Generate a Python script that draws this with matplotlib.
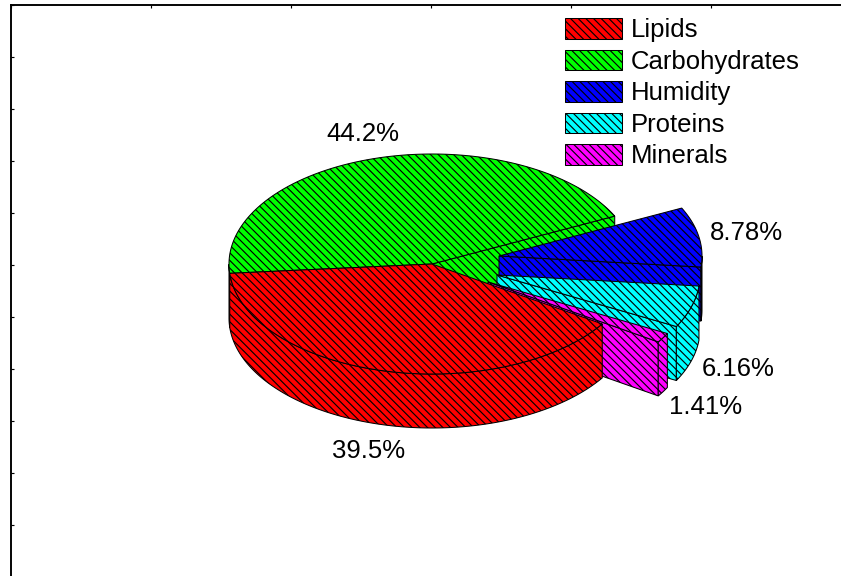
import numpy as np
import matplotlib
matplotlib.use('Agg')
from matplotlib import pyplot as plt
from matplotlib.patches import Polygon, Patch

categories = ['Lipids', 'Carbohydrates', 'Humidity', 'Proteins', 'Minerals']
values = [39.5, 44.2, 8.78, 6.16, 1.41]
value_labels = ['39.5%', '44.2%', '8.78%', '6.16%', '1.41%']
colors = ['#ff0000', '#00ff00', '#0000ff', '#00ffff', '#ff00ff']

# pie shape, in pixels of the picture
center_x, center_y = 432, 264
radius_x, radius_y = 203, 110
depth = 54
start_angle = -33
explode = [(0, 0), (0, 0), (67, -8), (65, 11), (56, 18)]
label_pos = [(369, 451), (363, 134), (746, 233), (738, 369), (706, 407)]
draw_order = [1, 2, 3, 4, 0]

# hatch spacing follows the dpi, 92 gives the spacing of the original
DPI = 92
plt.rcParams['font.family'] = ['Liberation Sans', 'DejaVu Sans']
plt.rcParams['hatch.linewidth'] = 0.9
font_size = 20.2
edge_width = 0.8
hatch = '\\\\\\\\'

W, H = 841, 576
fig = plt.figure(figsize=(W / DPI, H / DPI), dpi=DPI)
left, top, right, bottom = 11, 5, 851, 577
ax = fig.add_axes([left / W, 1 - bottom / H, (right - left) / W, (bottom - top) / H])
ax.set_xlim(left, right)
ax.set_ylim(bottom, top)
ax.set_xticks(np.arange(left, right + 1, 140))
ax.set_yticks(np.arange(top, bottom + 1, 52))
ax.tick_params(direction='in', length=2.2, width=0.9, top=True, bottom=False,
               labelleft=False, labelbottom=False)
for name in ['right', 'bottom']:
    ax.spines[name].set_visible(False)
for name in ['left', 'top']:
    ax.spines[name].set_linewidth(1.5)


def add_poly(pts, color):
    ax.add_patch(Polygon(pts, closed=True, facecolor=color, edgecolor='black',
                         hatch=hatch, linewidth=edge_width, joinstyle='miter'))


def rim(cx, cy, t):
    return np.column_stack([cx + radius_x * np.cos(t), cy - radius_y * np.sin(t)])


# angles run clockwise from the start angle
total = sum(values)
ends = start_angle - np.cumsum(values) / total * 360
starts = np.concatenate([[start_angle], ends[:-1]])

for i in draw_order:
    a1, a2 = np.radians(starts[i]), np.radians(ends[i])
    cx = center_x + explode[i][0]
    cy = center_y + explode[i][1]
    apex = np.array([cx, cy])
    down = np.array([0, depth])
    # cut faces that look towards the viewer
    for a, show in [(a1, np.cos(a1) < 0), (a2, np.cos(a2) > 0)]:
        if show:
            p = rim(cx, cy, np.array([a]))[0]
            add_poly([apex, p, p + down, apex + down], colors[i])
    # outer wall, front half only
    t = np.linspace(a1, a2, 400)
    front = t[np.sin(t) <= 0]
    if len(front) > 1:
        arc = rim(cx, cy, front)
        add_poly(np.vstack([arc, arc[::-1] + down]), colors[i])
    # top surface
    add_poly(np.vstack([apex, rim(cx, cy, t)]), colors[i])

for (x, y), txt in zip(label_pos, value_labels):
    ax.text(x, y, txt, fontsize=font_size, ha='center', va='center', color='black')

handles = [Patch(facecolor=c, edgecolor='black', hatch=hatch, linewidth=edge_width) for c in colors]
ax.legend(handles, categories, loc='upper left', bbox_to_anchor=(565, 18),
          bbox_transform=ax.transData, frameon=False, fontsize=font_size,
          borderpad=0, borderaxespad=0, handlelength=2.2, handleheight=0.86,
          handletextpad=0.36, labelspacing=0.28)

fig.savefig('out.png', dpi=DPI)
